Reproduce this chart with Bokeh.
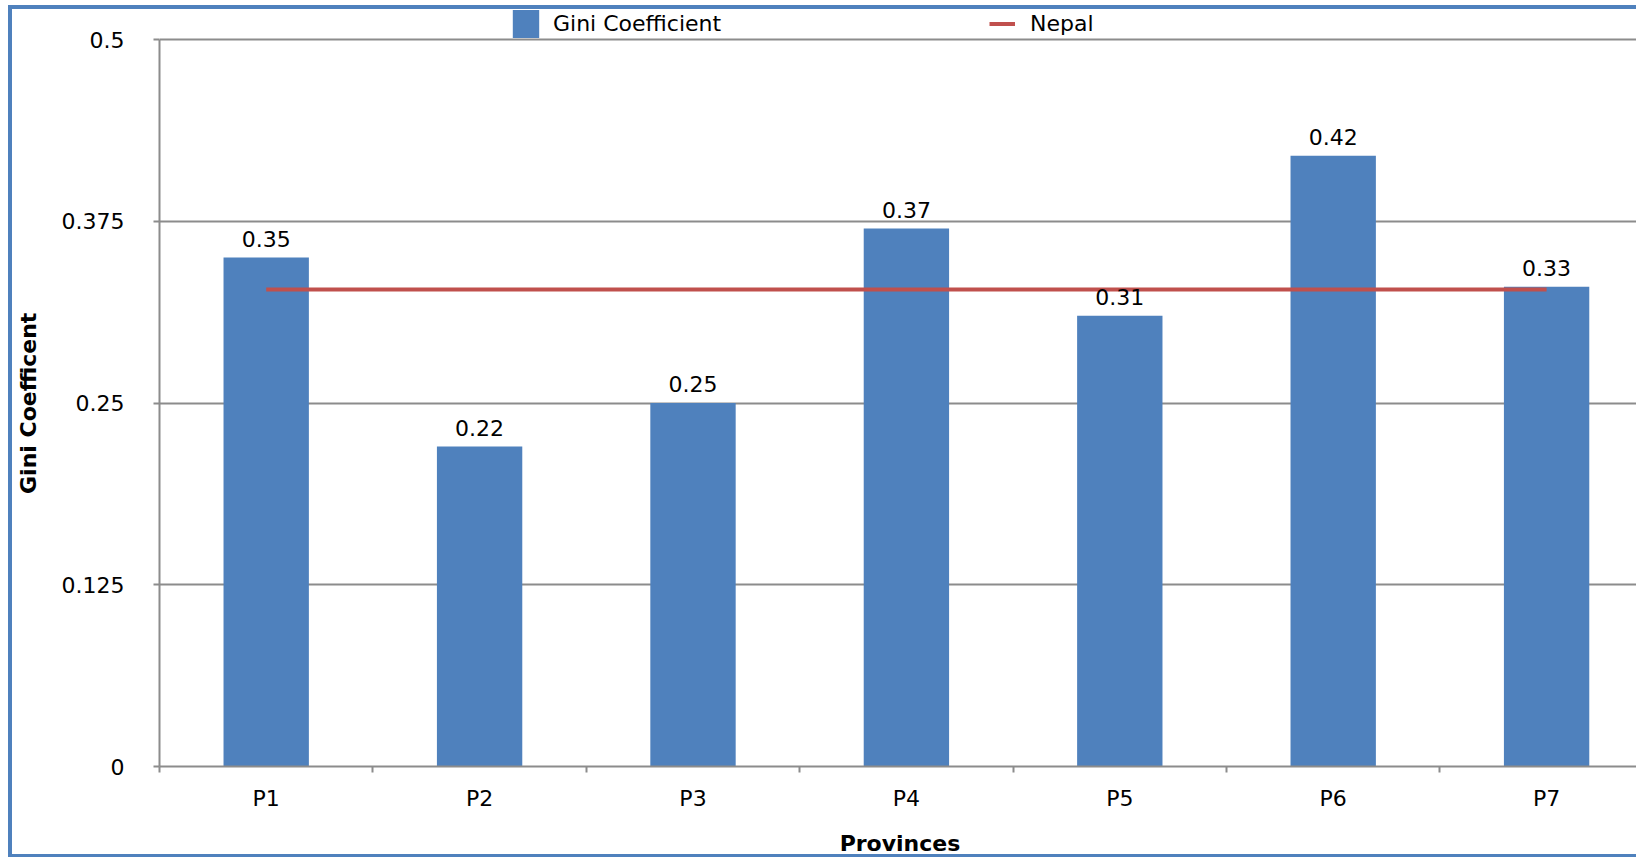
from bokeh.plotting import figure
from bokeh.models import Range1d, FixedTicker, Legend, LegendItem
from bokeh.core.properties import value
from bokeh.embed import file_html
from bokeh.resources import INLINE

# ---- data ----
provinces = ["P1", "P2", "P3", "P4", "P5", "P6", "P7"]
gini = [0.35, 0.22, 0.25, 0.37, 0.31, 0.42, 0.33]
nepal_gini = 0.328
y_ticks = [0, 0.125, 0.25, 0.375, 0.5]
y_tick_labels = ["0", "0.125", "0.25", "0.375", "0.5"]
y_title = "Gini Coefficent"
x_title = "Provinces"

FONT = "DejaVu Sans"
BLUE = "#4F81BD"
RED = "#C0504D"
GRID = "#8C8C8C"

# figure box: 4px left/top border, 3px bottom border (CSS)
W, H = 1628, 852
MB_LEFT, MB_BOTTOM = 147, 95
TOP_GAP = 30                   # px between canvas top and the 0.5 gridline
SLOT = 213.4                   # px per category
frame_w = W - MB_LEFT
frame_h = H - MB_BOTTOM
y_max = y_ticks[-1]
y_end = y_max * frame_h / (frame_h - TOP_GAP)

xs = [i + 0.5 for i in range(len(provinces))]
bar_labels = [f"{v:.2f}" for v in gini]

p = figure(width=W, height=H,
           x_range=Range1d(0, frame_w / SLOT), y_range=Range1d(0, y_end),
           output_backend="svg", toolbar_location=None,
           min_border_left=MB_LEFT, min_border_right=0,
           min_border_top=0, min_border_bottom=MB_BOTTOM)
p.outline_line_color = None
p.background_fill_color = "white"
p.border_fill_color = "white"
p.styles = {
    "border-left": f"4px solid {BLUE}",
    "border-top": f"4px solid {BLUE}",
    "border-bottom": f"3px solid {BLUE}",
    "margin-left": "8px",
    "margin-top": "5px",
}

# grid
p.xgrid.visible = False
p.ygrid.grid_line_color = GRID
p.ygrid.grid_line_width = 2

# y axis
ya = p.yaxis[0]
ya.bounds = (0, y_max)
ya.ticker = FixedTicker(ticks=y_ticks)
ya.major_label_overrides = dict(zip(y_ticks, y_tick_labels))
ya.axis_line_color = GRID
ya.axis_line_width = 2
ya.major_tick_line_color = GRID
ya.major_tick_line_width = 2
ya.major_tick_out = 6
ya.major_tick_in = 0
ya.minor_tick_line_color = None
ya.major_label_standoff = 29
ya.major_label_text_font = FONT
ya.major_label_text_font_size = "22px"
ya.major_label_text_color = "black"
# trailing no-break spaces keep the title centred on the 0..0.5 span
ya.axis_label = y_title + "\u00a0" * 4
ya.axis_label_text_font = FONT
ya.axis_label_text_font_size = "22px"
ya.axis_label_text_font_style = "bold"
ya.axis_label_text_color = "black"
ya.axis_label_standoff = 18

# x axis
xa = p.xaxis[0]
xa.ticker = FixedTicker(ticks=xs, minor_ticks=list(range(len(provinces) + 1)))
xa.major_label_overrides = dict(zip(xs, provinces))
xa.axis_line_color = GRID
xa.axis_line_width = 2
xa.major_tick_line_color = None
xa.major_tick_out = 0
xa.major_tick_in = 0
xa.minor_tick_line_color = GRID
xa.minor_tick_line_width = 2
xa.minor_tick_out = 6
xa.minor_tick_in = 0
xa.major_label_standoff = 13
xa.major_label_text_font = FONT
xa.major_label_text_font_size = "22px"
xa.major_label_text_color = "black"
xa.axis_label = x_title
xa.axis_label_text_font = FONT
xa.axis_label_text_font_size = "22px"
xa.axis_label_text_font_style = "bold"
xa.axis_label_text_color = "black"
xa.axis_label_standoff = 17

# glyphs
r_bar = p.vbar(x=xs, top=gini, width=0.4, fill_color=BLUE, line_color=None)
r_line = p.line(x=[xs[0], xs[-1]], y=[nepal_gini, nepal_gini],
                line_color=RED, line_width=4)
p.text(x=xs, y=gini, text=bar_labels, text_align="center",
       text_baseline="alphabetic", y_offset=-19,
       text_font=value(FONT), text_font_size="22px", text_color="black")

# legends (inside the top strip of the plot area)
def make_legend(label, rend, loc, gw, gh, standoff):
    return Legend(items=[LegendItem(label=label, renderers=[rend])],
                  location=loc, orientation="horizontal",
                  glyph_width=gw, glyph_height=gh, label_standoff=standoff,
                  padding=0, margin=0, spacing=0,
                  border_line_color=None, background_fill_alpha=0,
                  label_text_font=FONT, label_text_font_size="22px",
                  label_text_color="black")

leg_bottom = 31.5  # canvas y of legend bottom edge
leg1 = make_legend("Gini Coefficient", r_bar, (350, frame_h - leg_bottom), 33, 35, 11)
leg2 = make_legend("Nepal", r_line, (830, frame_h - leg_bottom), 26, 35, 15)
p.add_layout(leg1)
p.add_layout(leg2)

open("out.html", "w").write(file_html(p, INLINE))
